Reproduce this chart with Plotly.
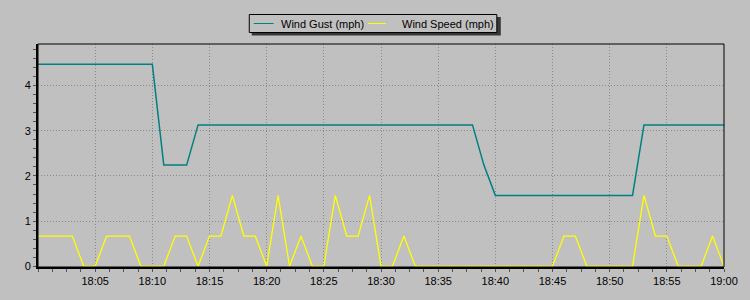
import plotly.graph_objects as go
import pandas as pd

minutes = list(range(0, 61))
times = [pd.Timestamp("2024-01-01 18:00") + pd.Timedelta(minutes=m) for m in minutes]

wind_gust = [4.47] * 11 + [2.24] * 3 + [3.13] * 25 + [2.24] + [1.57] * 13 + [3.13] * 8
wind_speed = [0.67, 0.67, 0.67, 0.67, 0, 0, 0.67, 0.67, 0.67, 0, 0,
              0, 0.67, 0.67, 0, 0.67, 0.67, 1.57, 0.67, 0.67, 0,
              1.57, 0, 0.67, 0, 0, 1.57, 0.67, 0.67, 1.57, 0,
              0, 0.67, 0, 0, 0, 0, 0, 0, 0, 0,
              0, 0, 0, 0, 0, 0.67, 0.67, 0, 0, 0,
              0, 0, 1.57, 0.67, 0.67, 0, 0, 0, 0.67, 0]

series_names = ["Wind Gust (mph)", "Wind Speed (mph)"]
series_colors = ["#008080", "#FFFF00"]

tick_labels = ["18:05", "18:10", "18:15", "18:20", "18:25", "18:30",
               "18:35", "18:40", "18:45", "18:50", "18:55", "19:00"]
tick_vals = [pd.Timestamp("2024-01-01 " + t) for t in tick_labels]

W, H = 750, 300
ml, mr, mt, mb = 38, 22, 44, 33
pw, ph = W - ml - mr, H - mt - mb

def px_x(px):
    return (px - ml) / pw

def px_y(py):
    return 1 + (mt - py) / ph

fig = go.Figure()
fig.add_trace(go.Scatter(x=times, y=wind_gust, mode="lines", name=series_names[0],
                         line=dict(color=series_colors[0], width=1.5), showlegend=False))
fig.add_trace(go.Scatter(x=times, y=wind_speed, mode="lines", name=series_names[1],
                         line=dict(color=series_colors[1], width=1.3), showlegend=False))

font = dict(family="Liberation Sans, Arial, sans-serif", size=11, color="black")

# custom legend box (drawn as shapes + text annotations)
shapes = [
    dict(type="rect", xref="paper", yref="paper", x0=0, x1=1, y0=0, y1=1,
         line=dict(color="black", width=1), fillcolor="rgba(0,0,0,0)", layer="above"),
    dict(type="rect", xref="paper", yref="paper", x0=px_x(253), x1=px_x(503.5),
         y0=px_y(35.5), y1=px_y(17), line=dict(width=0), fillcolor="#383838", layer="above"),
    dict(type="rect", xref="paper", yref="paper", x0=px_x(250.5), x1=px_x(499.5),
         y0=px_y(32.5), y1=px_y(14.5), line=dict(color="black", width=1),
         fillcolor="#C0C0C0", layer="above"),
]
legend_line_x = [(255, 275), (370, 388)]
legend_text_x = [281, 403]
annotations = []
for name, color, (lx0, lx1), tx in zip(series_names, series_colors, legend_line_x, legend_text_x):
    shapes.append(dict(type="line", xref="paper", yref="paper", x0=px_x(lx0), x1=px_x(lx1),
                       y0=px_y(23.5), y1=px_y(23.5), line=dict(color=color, width=1), layer="above"))
    annotations.append(dict(text=name, xref="paper", yref="paper", x=px_x(tx), y=px_y(23.5),
                            xanchor="left", yanchor="middle", showarrow=False, font=font,
                            borderpad=0))

fig.update_layout(
    width=W, height=H,
    margin=dict(l=ml, r=mr, t=mt, b=mb),
    paper_bgcolor="#C0C0C0", plot_bgcolor="#C0C0C0",
    font=font,
    showlegend=False,
    xaxis=dict(range=[times[0], times[-1]], tickvals=tick_vals, ticktext=tick_labels,
               showgrid=True, gridcolor="#8a8a8a", griddash="1px,2px", gridwidth=1,
               showline=True, linecolor="black", linewidth=2,
               ticks="outside", ticklen=3, tickcolor="#555", zeroline=False,
               minor=dict(dtick=75000, ticks="outside", ticklen=3, tickcolor="#555", showgrid=False),
               fixedrange=True),
    yaxis=dict(range=[-0.015, 4.92], dtick=1, tick0=0,
               showgrid=True, gridcolor="#8a8a8a", griddash="1px,2px", gridwidth=1,
               showline=True, linecolor="black", linewidth=2,
               ticks="outside", ticklen=3, tickcolor="#555", zeroline=False,
               minor=dict(dtick=0.2, ticks="outside", ticklen=3, tickcolor="#555", showgrid=False),
               fixedrange=True),
    shapes=shapes,
    annotations=annotations,
)

fig.write_html("out.html")
